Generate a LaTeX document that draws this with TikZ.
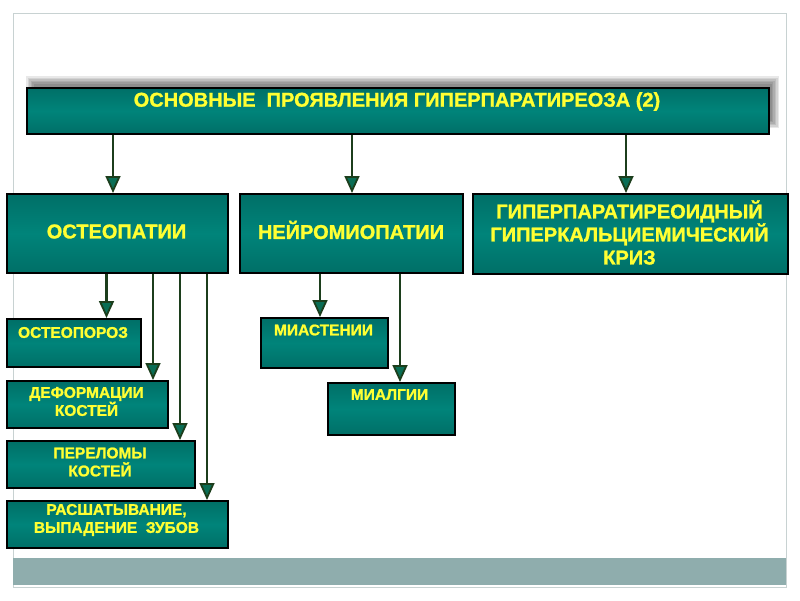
\documentclass[tikz,border=0pt]{standalone}
\usepackage{fontspec}
\setmainfont{Liberation Sans}[BoldFeatures={FakeBold=1.3}]
\usetikzlibrary{arrows.meta}
\definecolor{tdk}{RGB}{0,90,84}
\definecolor{tlt}{RGB}{0,132,122}
\definecolor{txty}{RGB}{255,255,51}
\definecolor{arrc}{RGB}{28,62,28}
\definecolor{arrf}{RGB}{10,110,85}
\definecolor{framec}{RGB}{200,210,210}
\definecolor{barc}{RGB}{143,173,173}
\pgfdeclareverticalshading{tealbox}{100bp}{color(0bp)=(tdk); color(50bp)=(tlt); color(100bp)=(tdk)}
\tikzset{
  box/.style={draw=black, line width=1.8pt, shading=tealbox, inner sep=0pt, anchor=north west},
  big/.style={text=txty, font=\bfseries\fontsize{20}{23}\selectfont, align=center, inner sep=0pt},
  small/.style={text=txty, font=\bfseries\fontsize{15.5}{18}\selectfont, align=center, inner sep=0pt},
  arr/.style={draw=arrc, line width=2.8pt, -{Triangle[length=17pt,width=15pt,fill=arrf,line width=1.8pt]}}
}
\begin{document}
\begin{tikzpicture}[x=1pt,y=-1pt]
\useasboundingbox (0,0) rectangle (800,600);
\fill[white] (0,0) rectangle (800,600);
% frame
\draw[framec, line width=1pt] (13,13) rectangle (786,587);
\fill[barc] (13,558) rectangle (786,585);
% title shadow (soft)
\foreach \k in {0,1,2,3,4,5}{
  \fill[black, opacity=0.09] (26+\k*1.5,76+\k*1.5) rectangle (779-\k*1.5,128-\k*1.5);
}
% boxes
\node[box, minimum width=742pt, minimum height=46pt] (title) at (26,87) {};
\node[box, minimum width=221pt, minimum height=79pt] (ost) at (6,193) {};
\node[box, minimum width=223pt, minimum height=79pt] (neu) at (239,193) {};
\node[box, minimum width=315pt, minimum height=80pt] (hyp) at (472,193) {};
\node[box, minimum width=134pt, minimum height=48pt] (osp) at (6,318) {};
\node[box, minimum width=161pt, minimum height=47pt] (def) at (6,380) {};
\node[box, minimum width=188pt, minimum height=47pt] (per) at (6,440) {};
\node[box, minimum width=221pt, minimum height=47pt] (ras) at (6,500) {};
\node[box, minimum width=127pt, minimum height=50pt] (mia) at (260,317) {};
\node[box, minimum width=127pt, minimum height=52pt] (mya) at (327,382) {};
% texts
\node[big] (titletxt) at (397,101.5) {ОСНОВНЫЕ\ \ ПРОЯВЛЕНИЯ ГИПЕРПАРАТИРЕОЗА (2)};
\node[big] (osttxt) at (116.5,231.5) {ОСТЕОПАТИИ};
\node[big] (neutxt) at (351,230) {НЕЙРОМИОПАТИИ};
\node[big, text width=310pt] (hyptxt) at (629.5,232.5) {ГИПЕРПАРАТИРЕОИДНЫЙ\\ГИПЕРКАЛЬЦИЕМИЧЕСКИЙ\\КРИЗ};
\node[small] (osptxt) at (73,332.5) {ОСТЕОПОРОЗ};
\node[small] (deftxt) at (86.5,401.5) {ДЕФОРМАЦИИ\\КОСТЕЙ};
\node[small] (pertxt) at (100,462) {ПЕРЕЛОМЫ\\КОСТЕЙ};
\node[small] (rastxt) at (116.5,520) {РАСШАТЫВАНИЕ,\\ВЫПАДЕНИЕ\ \ ЗУБОВ};
\node[small] (miatxt) at (323.5,330) {МИАСТЕНИИ};
\node[small] (myatxt) at (389.5,394.5) {МИАЛГИИ};
% arrow x positions
\coordinate (c113) at (113,0);
\coordinate (c352) at (352,0);
\coordinate (c626) at (626,0);
\coordinate (c106) at (106.5,0);
\coordinate (c153) at (153,0);
\coordinate (c180) at (180,0);
\coordinate (c207) at (207,0);
\coordinate (c320) at (320,0);
\coordinate (c400) at (400,0);
% arrows
\draw[arr] (title.south -| c113) -- (ost.north -| c113);
\draw[arr] (title.south -| c352) -- (neu.north -| c352);
\draw[arr] (title.south -| c626) -- (hyp.north -| c626);
\draw[arr] (ost.south -| c106) -- (osp.north -| c106);
\draw[arr] (ost.south -| c153) -- (def.north -| c153);
\draw[arr] (ost.south -| c180) -- (per.north -| c180);
\draw[arr] (ost.south -| c207) -- (ras.north -| c207);
\draw[arr] (neu.south -| c320) -- (mia.north -| c320);
\draw[arr] (neu.south -| c400) -- (mya.north -| c400);
\end{tikzpicture}
\end{document}
